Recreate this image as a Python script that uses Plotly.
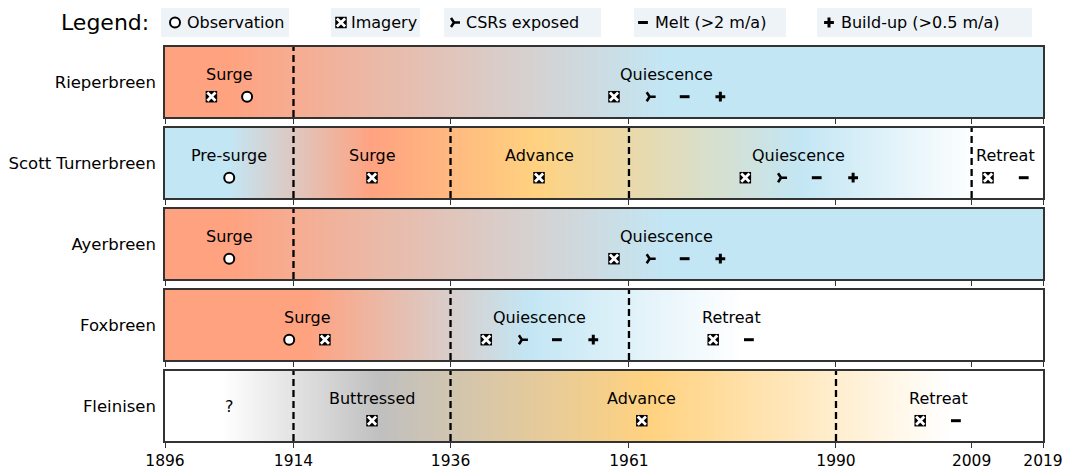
import plotly.graph_objects as go

# ---------------- data ----------------
GLACIERS = ["Rieperbreen", "Scott Turnerbreen", "Ayerbreen", "Foxbreen", "Fleinisen"]
X_TICKS = [1896, 1914, 1936, 1961, 1990, 2009, 2019]
YEAR_MIN, YEAR_MAX = 1896, 2019

# phase boundaries (dashed lines) per glacier
BOUNDARIES = [
    [1914],
    [1914, 1936, 1961, 2009],
    [1914],
    [1936, 1961],
    [1914, 1936, 1990],
]

# phase labels and their centre years
PHASE_NAMES = [
    ["Surge", "Quiescence"],
    ["Pre-surge", "Surge", "Advance", "Quiescence", "Retreat"],
    ["Surge", "Quiescence"],
    ["Surge", "Quiescence", "Retreat"],
    ["?", "Buttressed", "Advance", "Retreat"],
]
PHASE_LABEL_YEARS = [
    [1905.0, 1966.3],
    [1905.0, 1925.0, 1948.4, 1984.8, 2013.8],
    [1905.0, 1966.3],
    [1915.9, 1948.4, 1975.3],
    [1905.0, 1925.0, 1962.8, 2004.3],
]

# evidence markers (years) per glacier
OBSERVATION_YEARS = [[1907.5], [1905.0], [1905.0], [1913.4], []]
IMAGERY_YEARS = [[1902.5, 1958.9], [1925.0, 1948.4, 1977.3, 2011.3], [1958.9],
                 [1918.4, 1941.0, 1972.8], [1925.0, 1962.8, 2001.8]]
CSR_YEARS = [[1963.9], [1982.3], [1963.9], [1946.0], []]
MELT_YEARS = [[1968.8], [1987.3, 2016.3], [1968.8], [1950.9, 1977.8], [2006.8]]
BUILDUP_YEARS = [[1973.8], [1992.4], [1973.8], [1956.0], []]

# background colour gradient stops (year, phase) per glacier
STOP_YEARS = [
    [1896, 1905, 1966, 2019],
    [1896, 1905, 1925, 1948, 1985, 2010, 2019],
    [1896, 1905, 1966, 2019],
    [1896, 1916, 1947, 1977, 2019],
    [1896, 1904, 1926, 1964, 2006, 2019],
]
STOP_PHASES = [
    ["S", "S", "Q", "Q"],
    ["Q", "Q", "S", "A", "Q", "W", "W"],
    ["S", "S", "Q", "Q"],
    ["S", "S", "Q", "W", "W"],
    ["W", "W", "B", "A", "W", "W"],
]

LEGEND_LABELS = ["Observation", "Imagery", "CSRs exposed", "Melt (>2 m/a)", "Build-up (>0.5 m/a)"]
LEGEND_KINDS = ["obs", "img", "csr", "melt", "build"]

# ---------------- styling / layout ----------------
PHASE_COLORS = {"S": "#FFA280", "Q": "#C3E6F4", "A": "#FFD280", "B": "#C0C0C0", "W": "#FFFFFF"}
FONT = "DejaVu Sans"
FRAME = "#333333"

W, H = 1067, 471
ML, MR, MT, MB = 165, 24, 0, 30
PW = W - ML - MR
PH = H - MT - MB
ROW_TOP0, ROW_H, ROW_STEP = 47, 70, 81

# legend layout in pixels: (box left, box right, marker x, text left)
LEGEND_POS = [(161, 289, 175, 185), (331, 420, 341, 349), (444, 601, 454, 464),
              (634, 786, 643, 653), (817, 1032, 829, 839)]
LEGEND_Y = 22.5


def pxx(px):
    return (px - ML) / PW


def pxy(py):
    return (PH - (py - MT)) / PH


def ax_ids(n):
    s = "" if n == 1 else str(n)
    return "x" + s, "y" + s, "xaxis" + s, "yaxis" + s


def marker_traces(kind, xs, ys, xa, ya):
    common = dict(x=xs, y=ys, mode="markers", xaxis=xa, yaxis=ya,
                  hoverinfo="skip", showlegend=False, cliponaxis=False)
    if kind == "obs":
        return [go.Scatter(marker=dict(symbol="circle", size=10, color="white",
                                       line=dict(color="black", width=2)), **common)]
    if kind == "img":
        return [go.Scatter(marker=dict(symbol="square", size=11.5, color="black",
                                       line=dict(width=0)), **common),
                go.Scatter(marker=dict(symbol="x-thin", size=8.2, color="white",
                                       line=dict(color="white", width=2.8)), **common)]
    if kind == "csr":
        return [go.Scatter(marker=dict(symbol="y-right", size=7.5, color="black",
                                       line=dict(color="black", width=2.5)), **common)]
    if kind == "melt":
        return [go.Scatter(marker=dict(symbol="line-ew", size=7, color="black",
                                       line=dict(color="black", width=3)), **common)]
    if kind == "build":
        return [go.Scatter(marker=dict(symbol="cross-thin", size=7, color="black",
                                       line=dict(color="black", width=3)), **common)]
    return []


fig = go.Figure()
layout = dict(width=W, height=H, margin=dict(l=ML, r=MR, t=MT, b=MB),
              paper_bgcolor="white", plot_bgcolor="white", showlegend=False,
              font=dict(family=FONT, size=16, color="black"))
shapes, annotations = [], []

grid = [YEAR_MIN + 0.25 * k for k in range(int((YEAR_MAX - YEAR_MIN) / 0.25) + 1)]
span = YEAR_MAX - YEAR_MIN

for i, name in enumerate(GLACIERS):
    xa, ya, xk, yk = ax_ids(i + 1)
    top = ROW_TOP0 + i * ROW_STEP
    bot = top + ROW_H
    cs = [[(yr - YEAR_MIN) / span, PHASE_COLORS[p]] for yr, p in zip(STOP_YEARS[i], STOP_PHASES[i])]
    fig.add_trace(go.Heatmap(x=grid, y=[0, 1], z=[grid, grid], colorscale=cs,
                             zmin=YEAR_MIN, zmax=YEAR_MAX, showscale=False,
                             hoverinfo="skip", xaxis=xa, yaxis=ya))
    layout[xk] = dict(domain=[0, 1], range=[YEAR_MIN, YEAR_MAX], anchor=ya,
                      tickvals=X_TICKS, ticktext=[str(t) for t in X_TICKS],
                      ticks="outside", ticklen=5, tickwidth=1.3, tickcolor=FRAME,
                      showticklabels=(i == len(GLACIERS) - 1),
                      showline=True, linecolor=FRAME, linewidth=1.5, mirror=True,
                      showgrid=False, zeroline=False, fixedrange=True,
                      tickfont=dict(size=15.5, family=FONT, color="black"))
    layout[yk] = dict(domain=[pxy(bot), pxy(top)], range=[0, 1], anchor=xa,
                      tickvals=[0.5], ticktext=[name], ticks="",
                      ticklabelstandoff=4,
                      showline=True, linecolor=FRAME, linewidth=1.5, mirror=True,
                      showgrid=False, zeroline=False, fixedrange=True,
                      tickfont=dict(size=16.5, family=FONT, color="black"))
    for b in BOUNDARIES[i]:
        shapes.append(dict(type="line", xref=xa, yref=f"{ya} domain", x0=b, x1=b, y0=0, y1=1,
                           line=dict(color="black", width=2.3, dash="7px,4px"), layer="above"))
    for pname, yr in zip(PHASE_NAMES[i], PHASE_LABEL_YEARS[i]):
        annotations.append(dict(xref=xa, yref=ya, x=yr, y=0.5 if pname == "?" else 0.61,
                                text=pname, showarrow=False, xanchor="center", yanchor="middle",
                                font=dict(size=16, family=FONT, color="black")))
    for kind, arr in (("obs", OBSERVATION_YEARS), ("img", IMAGERY_YEARS), ("csr", CSR_YEARS),
                      ("melt", MELT_YEARS), ("build", BUILDUP_YEARS)):
        if arr[i]:
            for tr in marker_traces(kind, arr[i], [0.29] * len(arr[i]), xa, ya):
                fig.add_trace(tr)

# ---- legend row (pixel-based overlay axis) ----
layout["xaxis6"] = dict(domain=[0, 1], range=[ML, W - MR], anchor="y6", visible=False, fixedrange=True)
layout["yaxis6"] = dict(domain=[pxy(45), 1], range=[45, 0], anchor="x6", visible=False, fixedrange=True)

annotations.append(dict(xref="paper", yref="paper", x=pxx(59), y=pxy(LEGEND_Y), text="Legend:",
                        showarrow=False, xanchor="left", yanchor="middle",
                        font=dict(size=22, family=FONT, color="black")))
for (bl, br, mx, tx), lab, kind in zip(LEGEND_POS, LEGEND_LABELS, LEGEND_KINDS):
    shapes.append(dict(type="rect", xref="paper", yref="paper", x0=pxx(bl), x1=pxx(br),
                       y0=pxy(37), y1=pxy(8), fillcolor="#EEF3F8", line=dict(width=0), layer="below"))
    annotations.append(dict(xref="x6", yref="y6", x=tx, y=LEGEND_Y, text=lab, showarrow=False,
                            xanchor="left", yanchor="middle",
                            font=dict(size=16, family=FONT, color="black")))
    for tr in marker_traces(kind, [mx], [LEGEND_Y], "x6", "y6"):
        fig.add_trace(tr)

layout["shapes"] = shapes
layout["annotations"] = annotations
fig.update_layout(**layout)
fig.write_html("out.html")
